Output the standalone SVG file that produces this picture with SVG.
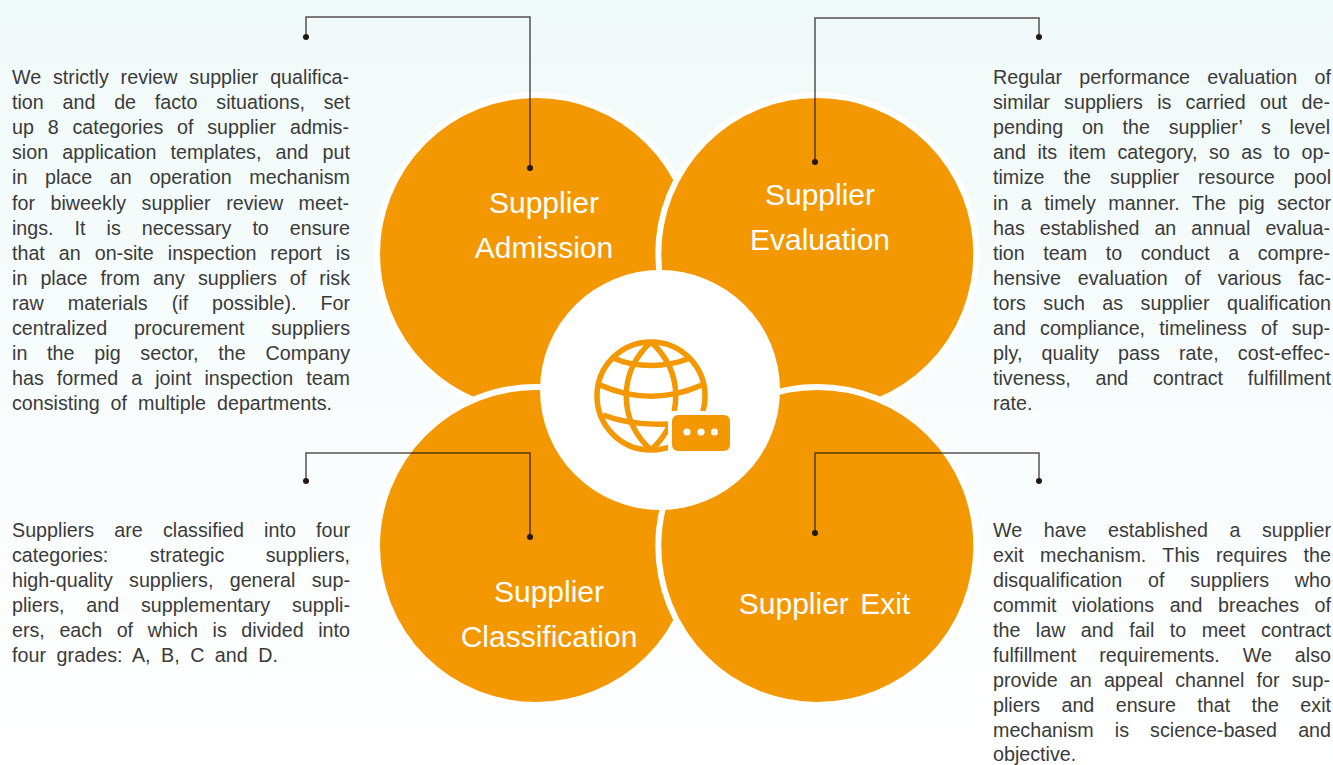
<svg xmlns="http://www.w3.org/2000/svg" width="1333" height="765" viewBox="0 0 1333 765">
<style>
.body{font-family:"Liberation Sans",Arial,sans-serif;font-size:19.7px;fill:#3a3a3a}
.lab{font-family:"Liberation Sans",Arial,sans-serif;font-size:30px;fill:#fff;text-anchor:middle}
.pet{fill:#f39800;stroke:#fff;stroke-width:6}
.ln{fill:none;stroke:#231815;stroke-opacity:.75;stroke-width:1.5}
.dot{fill:#231815}
.ic{fill:none;stroke:#f39800;stroke-width:5.5}
</style>
<defs><linearGradient id="bg" x1="0" y1="0" x2="0" y2="1"><stop offset="0" stop-color="#f0f9f9"/><stop offset="1" stop-color="#fff"/></linearGradient></defs>
<rect width="1333" height="765" fill="url(#bg)"/>
<g id="node-admission"><circle class="pet" cx="536" cy="254" r="159"/>
<text class="lab" x="544" y="212.500">Supplier</text><text class="lab" x="544" y="257.500">Admission</text></g>
<g id="node-evaluation"><circle class="pet" cx="817.300" cy="254" r="159"/>
<text class="lab" x="820" y="204.500">Supplier</text><text class="lab" x="820" y="249.500">Evaluation</text></g>
<g id="node-classification"><circle class="pet" cx="536" cy="546" r="159"/>
<text class="lab" x="549" y="601.500">Supplier</text><text class="lab" x="549" y="646.500">Classification</text></g>
<g id="node-exit"><circle class="pet" cx="817.300" cy="546" r="159"/>
<text class="lab" x="824.500" y="613.500" word-spacing="3">Supplier Exit</text></g>
<g id="node-center"><circle cx="660" cy="390" r="120" fill="#fff"/>
<circle class="ic" cx="651" cy="396" r="54"/>
<path class="ic" d="M651 342C618 372 618 420 651 450M651 342C684 372 684 420 651 450M613 358C636 368 666 368 690 358M600 385C634 400 668 400 702 385M603 415C624 423 646 425 668 424"/>
<rect x="668" y="411" width="68" height="45" fill="#fff"/>
<rect x="672" y="415" width="58" height="36" rx="6" fill="#f39800"/>
<circle cx="687" cy="432" r="3.600" fill="#fff"/><circle cx="701" cy="432" r="3.600" fill="#fff"/><circle cx="714.500" cy="432" r="3.600" fill="#fff"/></g>
<g id="connectors">
<path class="ln" d="M306 37V17H530V168"/><path class="ln" d="M1039 37V18H815V162"/>
<path class="ln" d="M306 481V453H530V537"/><path class="ln" d="M1039 481V453H815V533"/>
<circle class="dot" cx="306" cy="37" r="3"/><circle class="dot" cx="530" cy="168" r="3"/>
<circle class="dot" cx="1039" cy="37" r="3"/><circle class="dot" cx="815" cy="162" r="3"/>
<circle class="dot" cx="306" cy="481" r="3"/><circle class="dot" cx="530" cy="537" r="3"/>
<circle class="dot" cx="1039" cy="481" r="3"/><circle class="dot" cx="815" cy="533" r="3"/>
</g>
<g id="text-admission" class="body">
<text x="12" y="84" textLength="337" word-spacing="6.300">We strictly review supplier qualifica-</text>
<text x="12" y="109" textLength="338" word-spacing="13.300">tion and de facto situations, set</text>
<text x="12" y="134" textLength="337" word-spacing="8.300">up 8 categories of supplier admis-</text>
<text x="12" y="159" textLength="338" word-spacing="8.700">sion application templates, and put</text>
<text x="12" y="184" textLength="338" word-spacing="12.200">in place an operation mechanism</text>
<text x="12" y="210" textLength="337" word-spacing="10">for biweekly supplier review meet-</text>
<text x="12" y="235" textLength="338" word-spacing="15.500">ings. It is necessary to ensure</text>
<text x="12" y="260" textLength="338" word-spacing="8.500">that an on-site inspection report is</text>
<text x="12" y="285" textLength="338" word-spacing="7.600">in place from any suppliers of risk</text>
<text x="12" y="310" textLength="338" word-spacing="18.500">raw materials (if possible). For</text>
<text x="12" y="335" textLength="338" word-spacing="21.200">centralized procurement suppliers</text>
<text x="12" y="360" textLength="338" word-spacing="14.200">in the pig sector, the Company</text>
<text x="12" y="385" textLength="338" word-spacing="7.600">has formed a joint inspection team</text>
<text x="12" y="410" textLength="320" word-spacing="5.500">consisting of multiple departments.</text>
</g>
<g id="text-evaluation" class="body">
<text x="993" y="84" textLength="338" word-spacing="11.900">Regular performance evaluation of</text>
<text x="993" y="109" textLength="337" word-spacing="8.700">similar suppliers is carried out de-</text>
<text x="993" y="134" textLength="337" word-spacing="13.300">pending on the supplier’ s level</text>
<text x="993" y="159" textLength="337" word-spacing="5.900">and its item category, so as to op-</text>
<text x="993" y="184" textLength="338" word-spacing="13.600">timize the supplier resource pool</text>
<text x="993" y="210" textLength="338" word-spacing="6.900">in a timely manner. The pig sector</text>
<text x="993" y="235" textLength="337" word-spacing="9.500">has established an annual evalua-</text>
<text x="993" y="260" textLength="337" word-spacing="13.100">tion team to conduct a compre-</text>
<text x="993" y="285" textLength="338" word-spacing="11.400">hensive evaluation of various fac-</text>
<text x="993" y="310" textLength="338" word-spacing="12">tors such as supplier qualification</text>
<text x="993" y="335" textLength="337" word-spacing="8.800">and compliance, timeliness of sup-</text>
<text x="993" y="360" textLength="337" word-spacing="13.600">ply, quality pass rate, cost-effec-</text>
<text x="993" y="385" textLength="338" word-spacing="19.200">tiveness, and contract fulfillment</text>
<text x="993" y="410">rate.</text>
</g>
<g id="text-classification" class="body">
<text x="12" y="537" textLength="338" word-spacing="14.700">Suppliers are classified into four</text>
<text x="12" y="562" textLength="338" word-spacing="36">categories: strategic suppliers,</text>
<text x="12" y="587" textLength="338" word-spacing="10.800">high-quality suppliers, general sup-</text>
<text x="12" y="612" textLength="338" word-spacing="16.300">pliers, and supplementary suppli-</text>
<text x="12" y="637" textLength="338" word-spacing="9.100">ers, each of which is divided into</text>
<text x="12" y="662" textLength="266" word-spacing="4.900">four grades: A, B, C and D.</text>
</g>
<g id="text-exit" class="body">
<text x="993" y="537" textLength="338" word-spacing="16">We have established a supplier</text>
<text x="993" y="562" textLength="338" word-spacing="10.900">exit mechanism. This requires the</text>
<text x="993" y="587" textLength="338" word-spacing="20.300">disqualification of suppliers who</text>
<text x="993" y="612" textLength="338" word-spacing="10">commit violations and breaches of</text>
<text x="993" y="637" textLength="338" word-spacing="10">the law and fail to meet contract</text>
<text x="993" y="662" textLength="338" word-spacing="17.400">fulfillment requirements. We also</text>
<text x="993" y="687" textLength="337" word-spacing="6.700">provide an appeal channel for sup-</text>
<text x="993" y="712" textLength="338" word-spacing="15.900">pliers and ensure that the exit</text>
<text x="993" y="737" textLength="338" word-spacing="15.600">mechanism is science-based and</text>
<text x="993" y="761">objective.</text>
</g>
</svg>
